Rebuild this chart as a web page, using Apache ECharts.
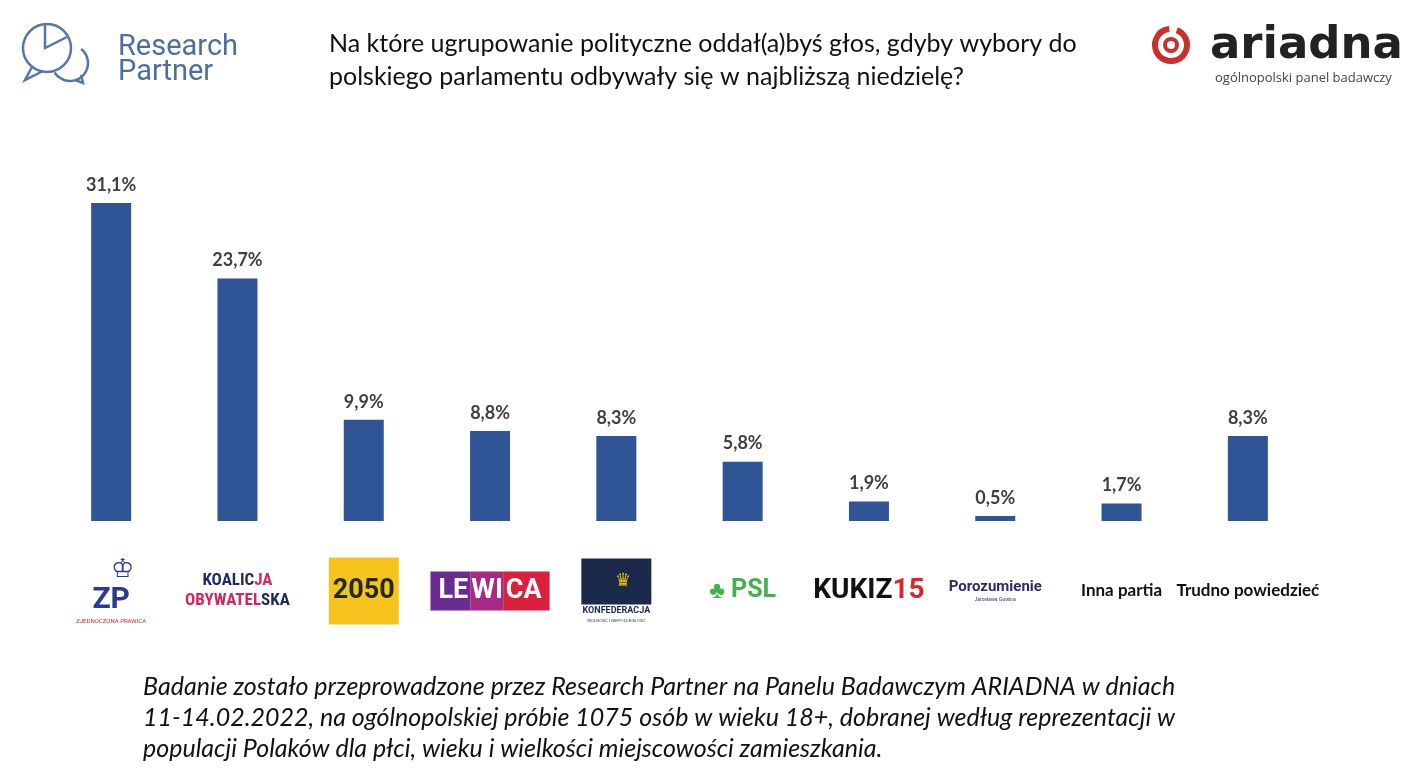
<!DOCTYPE html>
<html><head><meta charset="utf-8">
<script src="https://cdn.jsdelivr.net/npm/echarts/dist/echarts.min.js"></script>
<style>html,body{margin:0;padding:0;background:#fff}#c{width:1412px;height:778px}</style>
</head><body><div id="c"></div>
<script>
const categories = ['Zjednoczona Prawica', 'Koalicja Obywatelska', 'Polska 2050', 'Lewica', 'Konfederacja', 'PSL', "Kukiz'15", 'Porozumienie', 'Inna partia', 'Trudno powiedzieć'];
const values = [31.1, 23.7, 9.9, 8.8, 8.3, 5.8, 1.9, 0.5, 1.7, 8.3];
const titleLines = ['Na które ugrupowanie polityczne oddał(a)byś głos, gdyby wybory do', 'polskiego parlamentu odbywały się w najbliższą niedzielę?'];
const noteLines = [
  'Badanie zostało przeprowadzone przez Research Partner na Panelu Badawczym ARIADNA w dniach',
  '11-14.02.2022, na ogólnopolskiej próbie 1075 osób w wieku 18+, dobranej według reprezentacji w',
  'populacji Polaków dla płci, wieku i wielkości miejscowości zamieszkania.'
];

const logoText = {
  'Zjednoczona Prawica': '{crown|♔}\n{zp|ZP}\n{zps|ZJEDNOCZONA PRAWICA}',
  'Koalicja Obywatelska': '{kon|KOALIC}{kor|JA}\n{kor|OBYWATEL}{kon|SKA}',
  'Polska 2050': '{p50|2050}',
  'Lewica': '{lw1|LE}{lw2|WI}{lw3|CA}',
  'Konfederacja': '{kfb|♛}\n{kf|KONFEDERACJA}\n{kfs|WOLNOŚĆ I NIEPODLEGŁOŚĆ}',
  'PSL': '{pslc|♣}{psl| PSL}',
  "Kukiz'15": '{kk|KUKIZ}{kk15|15}',
  'Porozumienie': '{por|Porozumienie}\n{pors|Jarosława Gowina}',
  'Inna partia': '{txt|Inna partia}',
  'Trudno powiedzieć': '{txt|Trudno powiedzieć}'
};

const chart = echarts.init(document.getElementById('c'));
chart.setOption({
  backgroundColor: '#ffffff',
  animation: false,
  grid: { left: 48, right: 101, top: 163, bottom: 257 },
  xAxis: {
    type: 'category',
    data: categories,
    axisLine: { show: false },
    axisTick: { show: false },
    axisLabel: {
      interval: 0,
      margin: 70,
      verticalAlign: 'middle',
      align: 'center',
      formatter: function (v) { return logoText[v] || v; },
      rich: {
        crown: { fontSize: 26, color: '#2B3A8C', align: 'center', lineHeight: 28, padding: [0, 0, 0, 22] },
        zp: { fontSize: 30, fontWeight: 'bold', fontFamily: 'Roboto', color: '#2B3A8C', lineHeight: 32 },
        zps: { fontSize: 6, color: '#D8262E', fontFamily: 'Roboto', lineHeight: 10 },
        kon: { fontSize: 17, fontWeight: 'bold', fontFamily: 'Roboto Condensed, Roboto', color: '#1E2A5E', lineHeight: 20 },
        kor: { fontSize: 17, fontWeight: 'bold', fontFamily: 'Roboto Condensed, Roboto', color: '#D8265A', lineHeight: 20 },
        p50: { fontSize: 27, fontWeight: 'bold', fontFamily: 'Roboto', color: '#1E2B1E', backgroundColor: '#F6C41C', padding: [20, 4, 20, 4] },
        lw1: { fontSize: 27, fontWeight: 'bold', fontFamily: 'Roboto', color: '#ffffff', backgroundColor: '#6A2C93', padding: [6, 2, 6, 8] },
        lw2: { fontSize: 27, fontWeight: 'bold', fontFamily: 'Roboto', color: '#ffffff', backgroundColor: '#A72A84', padding: [6, 1, 6, 1] },
        lw3: { fontSize: 27, fontWeight: 'bold', fontFamily: 'Roboto', color: '#ffffff', backgroundColor: '#DA203C', padding: [6, 8, 6, 2] },
        kfb: { fontSize: 18, color: '#F2C200', backgroundColor: '#1B2A4A', width: 56, height: 46, align: 'center', padding: [0, 0, 0, 14] },
        kf: { fontSize: 9, fontWeight: 'bold', fontFamily: 'Roboto', color: '#1B2A4A', lineHeight: 13 },
        kfs: { fontSize: 4, color: '#1B2A4A', lineHeight: 6 },
        pslc: { fontSize: 24, color: '#44B04F' },
        psl: { fontSize: 25, fontWeight: 'bold', fontFamily: 'Roboto', color: '#44B04F' },
        kk: { fontSize: 28, fontWeight: 'bold', fontFamily: 'Roboto', color: '#111111' },
        kk15: { fontSize: 28, fontWeight: 'bold', fontFamily: 'Roboto', color: '#D8262E' },
        por: { fontSize: 15, fontWeight: 'bold', fontFamily: 'Roboto', color: '#2E2A6B', lineHeight: 18 },
        pors: { fontSize: 5, color: '#2E2A6B', lineHeight: 8 },
        txt: { fontSize: 17, fontWeight: 'bold', fontFamily: 'Lato', color: '#111111' }
      }
    }
  },
  yAxis: { type: 'value', min: 0, max: 35, show: false, splitLine: { show: false } },
  series: [{
    type: 'bar',
    data: values,
    barWidth: 40,
    itemStyle: { color: '#2F5597' },
    label: {
      show: true,
      position: 'top',
      distance: 9,
      fontFamily: 'Lato',
      fontWeight: 'bold',
      fontSize: 18,
      color: '#404040',
      formatter: function (p) { return p.value.toFixed(1).replace('.', ',') + '%'; }
    }
  }],
  graphic: [
    { type: 'text', left: 329, top: 27, style: { text: titleLines.join('\n'), font: '25px Lato', fill: '#111111', lineHeight: 33 } },
    { type: 'text', left: 143, top: 671, style: { text: noteLines.join('\n'), font: 'italic 25px Lato', fill: '#111111', lineHeight: 31 } },
    // Research Partner logo
    { type: 'circle', shape: { cx: 47, cy: 48, r: 24 }, style: { fill: 'none', stroke: '#5576A6', lineWidth: 2.5 } },
    { type: 'arc', shape: { cx: 70, cy: 63, r: 18, startAngle: -0.9, endAngle: 2.6 }, style: { fill: 'none', stroke: '#5576A6', lineWidth: 2.5 } },
    { type: 'polyline', shape: { points: [[45, 25], [45, 48], [67, 37]] }, style: { fill: 'none', stroke: '#5576A6', lineWidth: 2.5 } },
    { type: 'polyline', shape: { points: [[32, 67], [25, 80], [43, 71]] }, style: { fill: 'none', stroke: '#5576A6', lineWidth: 2.5 } },
    { type: 'polyline', shape: { points: [[75, 80], [83, 83], [81, 75]] }, style: { fill: 'none', stroke: '#5576A6', lineWidth: 2.5 } },
    { type: 'text', left: 118, top: 33, style: { text: 'Research\nPartner', font: '29px Roboto', fill: '#4D6FA0', lineHeight: 25 } },
    // ARIADNA logo
    { type: 'arc', shape: { cx: 1171, cy: 45, r: 16, startAngle: -1.2, endAngle: 4.6 }, style: { fill: 'none', stroke: '#C9302C', lineWidth: 6 } },
    { type: 'circle', shape: { cx: 1171, cy: 45, r: 6 }, style: { fill: 'none', stroke: '#C9302C', lineWidth: 4 } },
    { type: 'text', left: 1210, top: 24, style: { text: 'ariadna', font: 'bold 45px "DejaVu Sans"', fill: '#222222' } },
    { type: 'text', left: 1215, top: 72, style: { text: 'ogólnopolski panel badawczy', font: '13px "Open Sans"', fill: '#444444' } }
  ]
});
</script>
</body></html>
